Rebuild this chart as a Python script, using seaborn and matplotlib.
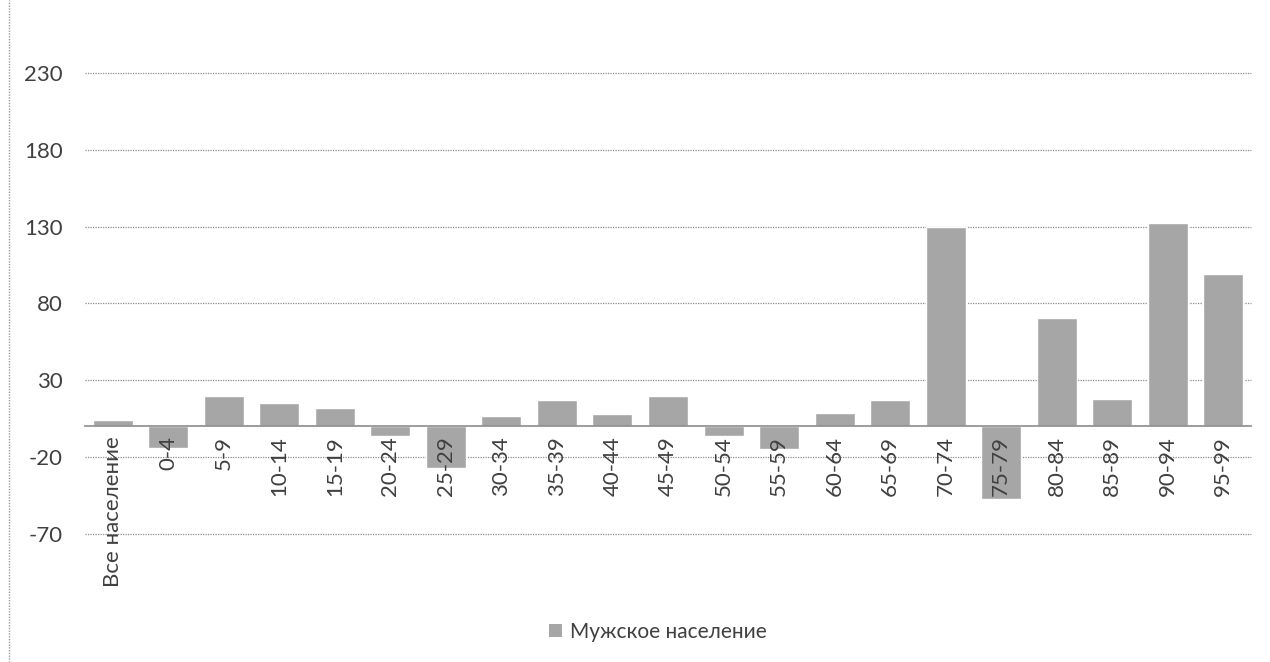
import matplotlib
matplotlib.use("Agg")
import matplotlib.pyplot as plt
from matplotlib.patches import Patch
from matplotlib.lines import Line2D
import seaborn as sns
import pandas as pd

# ── Data ──────────────────────────────────────────────────────────────────────
groups = ["Все население", "0-4", "5-9", "10-14", "15-19", "20-24", "25-29",
          "30-34", "35-39", "40-44", "45-49", "50-54", "55-59", "60-64",
          "65-69", "70-74", "75-79", "80-84", "85-89", "90-94", "95-99"]
values = [4, -14, 20, 15, 12, -6, -27,
          6.5, 17.5, 8, 19.5, -6, -15, 8.5,
          17.5, 130, -47, 70.5, 18, 132.5, 99.5]
series_name = "Мужское население"
y_ticks = [-70, -20, 30, 80, 130, 180, 230]

df = pd.DataFrame({"group": groups, "value": values})

# ── Style ─────────────────────────────────────────────────────────────────────
sns.set_style("white")
plt.rcParams["font.family"] = ["Lato", "DejaVu Sans"]
plt.rcParams["axes.unicode_minus"] = False

BAR = "#a6a6a6"
TXT = "#404040"

fig = plt.figure(figsize=(12.7, 6.62), dpi=100)
ax = fig.add_axes([85 / 1270, 1 - 534 / 662, (1251 - 85) / 1270, (534 - 73) / 662])

sns.barplot(data=df, x="group", y="value", color=BAR, width=0.72,
            saturation=1, ax=ax, zorder=2)

ax.set_ylim(-70, 230)
ax.set_xlim(-0.5, len(groups) - 0.5)
ax.set_yticks(y_ticks)
ax.set_xlabel("")
ax.set_ylabel("")

# gridlines
for t in y_ticks:
    ax.axhline(t, color="#8c8c8c", lw=0.9, ls=(0, (1, 1)), zorder=0,
               clip_on=False)

# category axis sits on zero
for s in ["top", "right", "left"]:
    ax.spines[s].set_visible(False)
ax.spines["bottom"].set_position(("data", 0))
ax.spines["bottom"].set_color("#8c8c8c")
ax.spines["bottom"].set_linewidth(1.2)
ax.spines["bottom"].set_zorder(3)
ax.xaxis.set_zorder(10)

ax.tick_params(axis="x", length=0, pad=7, labelsize=16, labelcolor=TXT,
               labelrotation=90)
ax.tick_params(axis="y", length=0, pad=16, labelsize=16, labelcolor=TXT)
for lbl in ax.get_xticklabels():
    lbl.set_verticalalignment("top")

# legend
handle = Patch(facecolor=BAR, edgecolor="none", label=series_name)
fig.legend(handles=[handle], loc="center", bbox_to_anchor=(0.518, 0.046),
           frameon=False, fontsize=15, labelcolor=TXT, handlelength=0.6,
           handleheight=0.6, handletextpad=0.4)

# chart border on the left
fig.add_artist(Line2D([0.007, 0.007], [0, 1], transform=fig.transFigure,
                      color="#9a9a9a", lw=1, ls=(0, (1, 1))))

fig.savefig("out.png", dpi=100)
